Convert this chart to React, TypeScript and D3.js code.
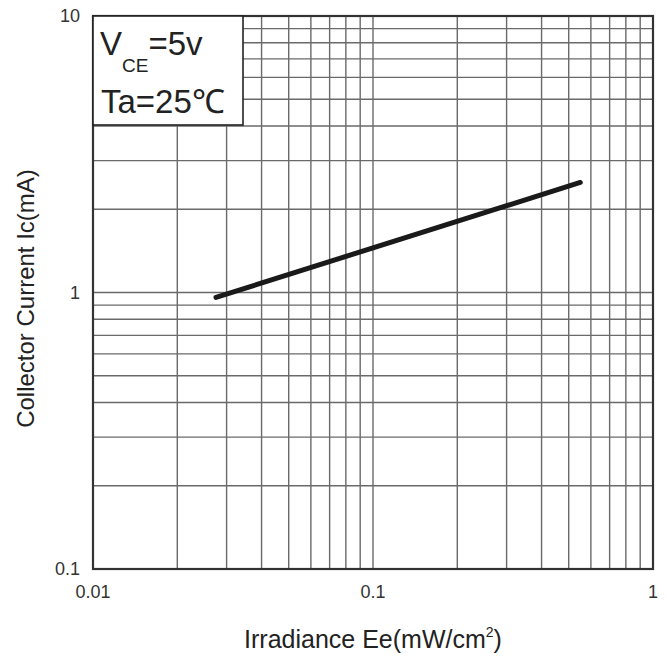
import React from "react";
import * as d3 from "d3";

// Irradiance Ee (mW/cm²) vs collector current Ic (mA)
const irradiance = [0.0275, 0.55];
const collectorCurrent = [0.96, 2.5];

const xTickValues = [0.01, 0.1, 1];
const xTickLabels = ["0.01", "0.1", "1"];
const yTickValues = [0.1, 1, 10];
const yTickLabels = ["0.1", "1", "10"];

const W = 667;
const H = 658;
const margin = { top: 16, right: 14, bottom: 89, left: 93 };

// minor grid values inside each decade (1..9 × 10^k)
function logGrid(lo: number, hi: number) {
  const out: number[] = [];
  for (let e = Math.round(Math.log10(lo)); e < Math.round(Math.log10(hi)); e++) {
    for (let m = 1; m <= 9; m++) out.push(m * Math.pow(10, e));
  }
  out.push(hi);
  return out;
}

export default function App() {
  const x = d3
    .scaleLog()
    .domain([0.01, 1])
    .range([margin.left, W - margin.right]);
  const y = d3
    .scaleLog()
    .domain([0.1, 10])
    .range([H - margin.bottom, margin.top]);

  const xGrid = logGrid(0.01, 1);
  const yGrid = logGrid(0.1, 10);

  const pts = irradiance.map((v, i) => [v, collectorCurrent[i]] as [number, number]);
  const line = d3
    .line<[number, number]>()
    .x((d) => x(d[0]))
    .y((d) => y(d[1]));

  const [x0, x1] = x.range();
  const [y0, y1] = y.range();
  const font = "'Liberation Sans', Arial, sans-serif";

  return (
    <svg
      width={W}
      height={H}
      style={{ position: "absolute", left: 0, top: 0, background: "#fff" }}
      fontFamily={font}
    >
      {/* grid */}
      <g stroke="#6a6a6a" strokeWidth={1.4}>
        {xGrid.map((v, i) => (
          <line key={"gx" + i} x1={x(v)} x2={x(v)} y1={y1} y2={y0} />
        ))}
        {yGrid.map((v, i) => (
          <line key={"gy" + i} x1={x0} x2={x1} y1={y(v)} y2={y(v)} />
        ))}
      </g>

      {/* frame */}
      <rect
        x={x0}
        y={y1}
        width={x1 - x0}
        height={y0 - y1}
        fill="none"
        stroke="#333"
        strokeWidth={2.2}
      />

      {/* condition box */}
      <rect x={x0} y={y1} width={150} height={109} fill="#fff" stroke="#222" strokeWidth={1.6} />
      <text x={x0 + 7} y={y1 + 39} fontSize={33} fill="#222">
        V
        <tspan fontSize={19} dy={17}>CE</tspan>
        <tspan dy={-17}>=5v</tspan>
      </text>
      <text x={x0 + 8} y={y1 + 97} fontSize={33} fill="#222">
        Ta=25℃
      </text>

      {/* curve */}
      <path
        d={line(pts) || ""}
        fill="none"
        stroke="#1a1a1a"
        strokeWidth={5}
        strokeLinecap="round"
      />

      {/* tick labels */}
      <g fontSize={18} fill="#333">
        {yTickValues.map((v, i) => (
          <text key={"yt" + i} x={x0 - 13} y={y(v) + 6} textAnchor="end">
            {yTickLabels[i]}
          </text>
        ))}
        {xTickValues.map((v, i) => (
          <text key={"xt" + i} x={x(v)} y={y0 + 29} textAnchor="middle">
            {xTickLabels[i]}
          </text>
        ))}
      </g>

      {/* axis titles */}
      <text
        x={(x0 + x1) / 2}
        y={648}
        fontSize={25}
        textAnchor="middle"
        fill="#222"
      >
        Irradiance Ee(mW/cm
        <tspan fontSize={14} dy={-11}>2</tspan>
        <tspan dy={11}>)</tspan>
      </text>
      <text
        transform={`translate(34, ${(y0 + y1) / 2 + 6}) rotate(-90)`}
        fontSize={24}
        textAnchor="middle"
        fill="#222"
      >
        Collector Current Ic(mA)
      </text>
    </svg>
  );
}
